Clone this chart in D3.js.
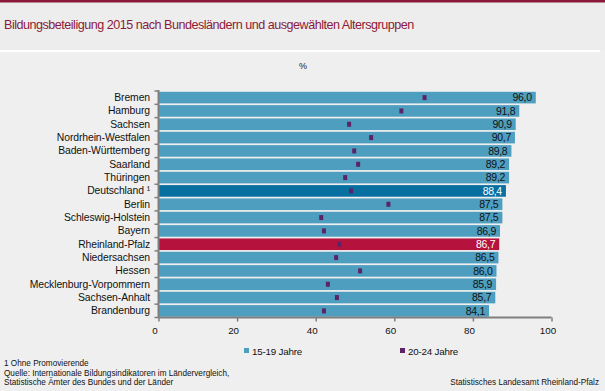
<!DOCTYPE html>
<html><head><meta charset="utf-8">
<script src="https://cdn.jsdelivr.net/npm/d3@7"></script>
<style>
html,body{margin:0;padding:0;background:#efefef;}
svg{display:block;font-family:"Liberation Sans",Arial,sans-serif;}
</style></head>
<body><svg id="c" width="605" height="391"></svg>
<script>
const categories = ["Bremen","Hamburg","Sachsen","Nordrhein-Westfalen","Baden-Württemberg","Saarland","Thüringen","Deutschland ¹","Berlin","Schleswig-Holstein","Bayern","Rheinland-Pfalz","Niedersachsen","Hessen","Mecklenburg-Vorpommern","Sachsen-Anhalt","Brandenburg"];
const values1519 = [96.0,91.8,90.9,90.7,89.8,89.2,89.2,88.4,87.5,87.5,86.9,86.7,86.5,86.0,85.9,85.7,84.1];
const values2024 = [67.7,61.8,48.5,54.1,49.8,50.8,47.5,49.0,58.5,41.4,42.1,46.0,45.2,51.3,43.1,45.4,42.1];
const xTicks = [0,20,40,60,80,100];
const seriesNames = ["15-19 Jahre","20-24 Jahre"];
const title = "Bildungsbeteiligung 2015 nach Bundesländern und ausgewählten Altersgruppen";

const svg = d3.select("#c");
const W=605,H=391;
svg.append("rect").attr("width",W).attr("height",H).attr("fill","#efefef");
svg.append("rect").attr("width",W).attr("height",50).attr("fill","#ededed");
svg.append("rect").attr("width",W).attr("height",2.5).attr("fill","#8b1a3a");
svg.append("rect").attr("y",50).attr("width",600).attr("height",2).attr("fill","#ffffff");
svg.append("text").attr("x",4).attr("y",29).attr("fill","#8b1a3a").attr("font-size","12.6px")
  .attr("letter-spacing","-0.5px").text(title);
svg.append("text").attr("x",303).attr("y",69).attr("text-anchor","middle").attr("font-size","9px").attr("fill","#222").text("%");

const x = d3.scaleLinear().domain([0,100]).range([158.5,551.5]);
const y = d3.scaleBand().domain(categories).range([91,317.5]).paddingInner(0.13).paddingOuter(0.06);

const colorFor = c => c.startsWith("Deutschland") ? "#086fa1" : (c==="Rheinland-Pfalz" ? "#b5133e" : "#4e9ec0");
const isHi = c => c.startsWith("Deutschland") || c==="Rheinland-Pfalz";

const g = svg.append("g");
g.selectAll("rect.bar").data(categories).join("rect").attr("class","bar")
  .attr("x",x(0)).attr("y",d=>y(d)).attr("height",y.bandwidth())
  .attr("width",(d,i)=>x(values1519[i])-x(0)).attr("fill",colorFor);

g.selectAll("rect.dot").data(categories).join("rect").attr("class","dot")
  .attr("x",(d,i)=>x(values2024[i])-2).attr("y",d=>y(d)+y.bandwidth()/2-2.5)
  .attr("width",4).attr("height",5).attr("fill","#5c2367");

g.selectAll("text.val").data(categories).join("text").attr("class","val")
  .attr("x",(d,i)=>x(values1519[i])-4).attr("y",d=>y(d)+y.bandwidth()/2+3.6)
  .attr("text-anchor","end").attr("font-size","10.5px").attr("letter-spacing","-0.3px")
  .attr("fill",d=>isHi(d)?"#ffffff":"#111")
  .text((d,i)=>d3.format(".1f")(values1519[i]).replace(".",","));

// y axis
const yAxis = d3.axisLeft(y).tickSize(0).tickPadding(8.5);
const ya = svg.append("g").attr("transform",`translate(${x(0)},0)`).call(yAxis);
ya.select(".domain").remove();
ya.selectAll("text").attr("font-size","10.4px").attr("fill","#111").attr("font-family","Liberation Sans, Arial, sans-serif").attr("letter-spacing","-0.1px");
svg.append("line").attr("x1",x(0)).attr("x2",x(0)).attr("y1",90).attr("y2",317.5).attr("stroke","#7f7f7f").attr("stroke-width",2);
const bounds = d3.range(categories.length+1).map(i=>91+i*( (317.5-91)/categories.length ));
svg.selectAll("line.yt").data(bounds).join("line").attr("class","yt")
  .attr("x1",x(0)-4).attr("x2",x(0)).attr("y1",d=>d).attr("y2",d=>d).attr("stroke","#7f7f7f").attr("stroke-width",1.5);

// x axis
const xAxis = d3.axisBottom(x).tickValues(xTicks).tickSize(4).tickPadding(6).tickFormat(d3.format("d"));
const xa = svg.append("g").attr("transform","translate(0,317.5)").call(xAxis);
xa.select(".domain").attr("stroke","#7f7f7f").attr("stroke-width",2).attr("d",`M${x(0)},0H${x(100)}`);
xa.selectAll(".tick line").attr("stroke","#7f7f7f").attr("stroke-width",1.5);
xa.selectAll("text").attr("font-size","9.8px").attr("fill","#111").attr("font-family","Liberation Sans, Arial, sans-serif").attr("dx","-4");

// legend
const leg = [{name:seriesNames[0],c:"#4e9ec0",x:244},{name:seriesNames[1],c:"#5c2367",x:400}];
leg.forEach(l=>{
  svg.append("rect").attr("x",l.x).attr("y",348).attr("width",5).attr("height",5).attr("fill",l.c);
  svg.append("text").attr("x",l.x+8).attr("y",354.5).attr("font-size","9.8px").attr("fill","#111").attr("letter-spacing","-0.2px").text(l.name);
});

// footnotes
const notes = ["1 Ohne Promovierende","Quelle: Internationale Bildungsindikatoren im Ländervergleich,","Statistische Ämter des Bundes und der Länder"];
svg.selectAll("text.note").data(notes).join("text").attr("class","note")
  .attr("x",4).attr("y",(d,i)=>366+i*9.7).attr("font-size","8.2px").attr("fill","#111").text(d=>d);
svg.append("text").attr("x",599).attr("y",385.4).attr("text-anchor","end").attr("font-size","8.2px").attr("fill","#111").text("Statistisches Landesamt Rheinland-Pfalz");
</script></body></html>
